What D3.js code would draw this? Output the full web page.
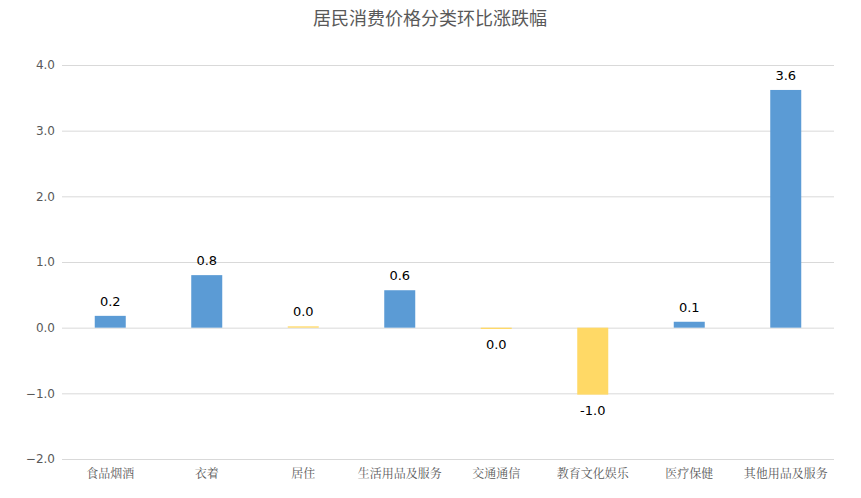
<!DOCTYPE html>
<html><head><meta charset="utf-8">
<script src="https://cdn.jsdelivr.net/npm/d3@7/dist/d3.min.js"></script>
<style>body{margin:0;background:#fff}</style>
</head><body><svg id="c" width="861" height="498"></svg>
<script>
const title = "居民消费价格分类环比涨跌幅";
const categories = ["食品烟酒","衣着","居住","生活用品及服务","交通通信","教育文化娱乐","医疗保健","其他用品及服务"];
const values = [0.18, 0.80, 0.02, 0.57, -0.02, -1.02, 0.09, 3.62];
const labels = ["0.2","0.8","0.0","0.6","0.0","-1.0","0.1","3.6"];
const barColors = ["#5b9bd5","#5b9bd5","#ffd966","#5b9bd5","#ffd966","#ffd966","#5b9bd5","#5b9bd5"];
const yTicks = [-2,-1,0,1,2,3,4];

(function(){
const svg = d3.select("#c");
const mL = 62, mR = 834, mT = 65, mB = 459;
const x = d3.scaleBand().domain(categories).range([mL, mR]).paddingInner(0).paddingOuter(0);
const y = d3.scaleLinear().domain([-2, 4]).range([mB, mT]);

svg.append("text").attr("x", 430).attr("y", 25).attr("text-anchor","middle")
  .attr("font-family","'Noto Sans CJK SC', sans-serif").attr("font-size",18).attr("fill","#595959").text(title);

const yAxis = svg.append("g").attr("transform",`translate(${mL},0)`)
  .call(d3.axisLeft(y).tickValues(yTicks).tickFormat(d3.format(".1f")).tickSize(-(mR-mL)).tickPadding(7));
yAxis.select(".domain").remove();
yAxis.selectAll(".tick line").attr("stroke","#d9d9d9");
yAxis.selectAll(".tick text").attr("fill","#595959").attr("font-size",12).attr("font-family","'DejaVu Sans', sans-serif");

const bw = 31;
svg.selectAll("rect.bar").data(values).join("rect").attr("class","bar")
  .attr("x",(d,i)=>x(categories[i]) + x.bandwidth()/2 - bw/2)
  .attr("width",bw)
  .attr("y",d=>y(Math.max(0,d)))
  .attr("height",d=>Math.max(1, Math.abs(y(d)-y(0))))
  .attr("fill",(d,i)=>barColors[i]);

svg.selectAll("text.lbl").data(values).join("text").attr("class","lbl")
  .attr("x",(d,i)=>x(categories[i]) + x.bandwidth()/2)
  .attr("y",d=> d>=0 ? y(d)-10 : y(d)+20)
  .attr("text-anchor","middle").attr("font-size",13).attr("fill","#000")
  .attr("font-family","'DejaVu Sans', sans-serif")
  .text((d,i)=>labels[i]);

svg.selectAll("text.cat").data(categories).join("text").attr("class","cat")
  .attr("x",d=>x(d)+x.bandwidth()/2).attr("y",478)
  .attr("text-anchor","middle").attr("font-size",12).attr("fill","#595959")
  .attr("font-family","'Noto Serif CJK SC','Noto Sans CJK SC', serif")
  .text(d=>d);
})();
</script></body></html>
